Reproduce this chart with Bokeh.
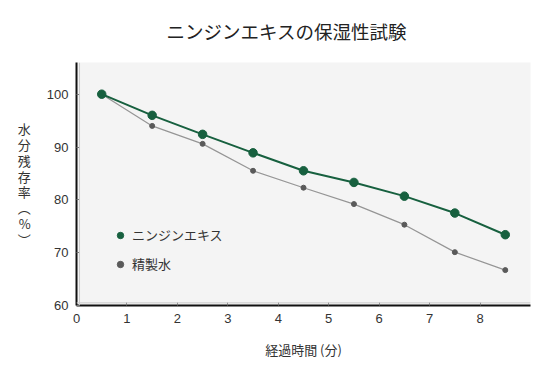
from bokeh.plotting import figure
from bokeh.models import Range1d, Legend, LegendItem, FixedTicker, Span
from bokeh.embed import file_html
from bokeh.resources import INLINE

# data
time_min = [0.5, 1.5, 2.5, 3.5, 4.5, 5.5, 6.5, 7.5, 8.5]
ninjin = [100, 96.0, 92.4, 88.9, 85.5, 83.3, 80.7, 77.5, 73.4]
water = [100, 94.0, 90.6, 85.5, 82.3, 79.2, 75.3, 70.1, 66.7]
x_ticks = [0, 1, 2, 3, 4, 5, 6, 7, 8]
y_ticks = [60, 70, 80, 90, 100]
title_text = "ニンジンエキスの保湿性試験"
x_label = "経過時間 (分)"
y_label_chars = ["水", "分", "残", "存", "率", "︵", "%", "︶"]
series_names = ["ニンジンエキス", "精製水"]

JP = "Noto Sans CJK JP"
NUM = "Liberation Sans"
GREEN = "#17603f"
GRAY_LINE = "#959595"
GRAY_PT = "#5a5a5a"

FRAME_LEFT = 76
FRAME_BOTTOM = 305

p = figure(width=550, height=377, output_backend="svg", toolbar_location=None,
           x_range=Range1d(0, 9), y_range=Range1d(60, 106),
           min_border_left=FRAME_LEFT, min_border_right=20, min_border_top=62,
           min_border_bottom=377 - FRAME_BOTTOM)
p.background_fill_color = "#f4f4f4"
p.border_fill_color = "white"
p.outline_line_color = None
p.grid.grid_line_color = None

p.title.text = title_text
p.title.text_font = JP
p.title.text_font_size = "18.5px"
p.title.text_font_style = "normal"
p.title.text_color = "#222222"
p.title.align = "left"
p.title.offset = 90
p.title.vertical_align = "top"
p.title.standoff = 33

for ax in (p.xaxis, p.yaxis):
    ax.axis_line_color = "#111111"
    ax.axis_line_width = 2
    ax.major_tick_in = 3
    ax.major_tick_out = 0
    ax.major_tick_line_color = "#777777"
    ax.minor_tick_line_color = None
    ax.major_label_text_font = NUM
    ax.major_label_text_font_size = "13px"
    ax.major_label_text_color = "#333333"

p.xaxis.ticker = FixedTicker(ticks=x_ticks)
p.yaxis.ticker = FixedTicker(ticks=y_ticks)
p.xaxis.major_label_standoff = 8
p.yaxis.major_label_standoff = 8
p.xaxis.axis_label = x_label
p.xaxis.axis_label_text_font = JP
p.xaxis.axis_label_text_font_size = "13px"
p.xaxis.axis_label_text_font_style = "normal"
p.xaxis.axis_label_text_color = "#333333"
p.xaxis.axis_label_standoff = 14

# vertical, upright y-axis label
p.yaxis.axis_label = "\n".join(y_label_chars)
p.yaxis.axis_label_orientation = "horizontal"
p.yaxis.axis_label_text_font = JP
p.yaxis.axis_label_text_font_size = "13px"
p.yaxis.axis_label_text_font_style = "normal"
p.yaxis.axis_label_text_color = "#333333"
p.yaxis.axis_label_text_line_height = 0.83
p.yaxis.axis_label_standoff = 13

# faint inner lines next to axes
p.add_layout(Span(location=0.06, dimension="height", line_color="#cccccc", line_width=1))
p.add_layout(Span(location=60.5, dimension="width", line_color="#cccccc", line_width=1))

# series
p.line(time_min, water, line_color=GRAY_LINE, line_width=1.2)
r_water = p.scatter(time_min, water, size=5, fill_color=GRAY_PT, line_color=GRAY_PT)
p.line(time_min, ninjin, line_color=GREEN, line_width=2)
r_ninjin = p.scatter(time_min, ninjin, size=8.5, fill_color=GREEN, line_color=GREEN)

legend = Legend(items=[LegendItem(label=series_names[0], renderers=[r_ninjin]),
                       LegendItem(label=series_names[1], renderers=[r_water])],
                location=(36, 32), background_fill_alpha=0, border_line_color=None,
                label_text_font=JP, label_text_font_size="13px", label_text_color="#333333",
                glyph_width=16, glyph_height=18, spacing=10, label_standoff=4)
p.add_layout(legend)

open("out.html", "w").write(file_html(p, INLINE))
